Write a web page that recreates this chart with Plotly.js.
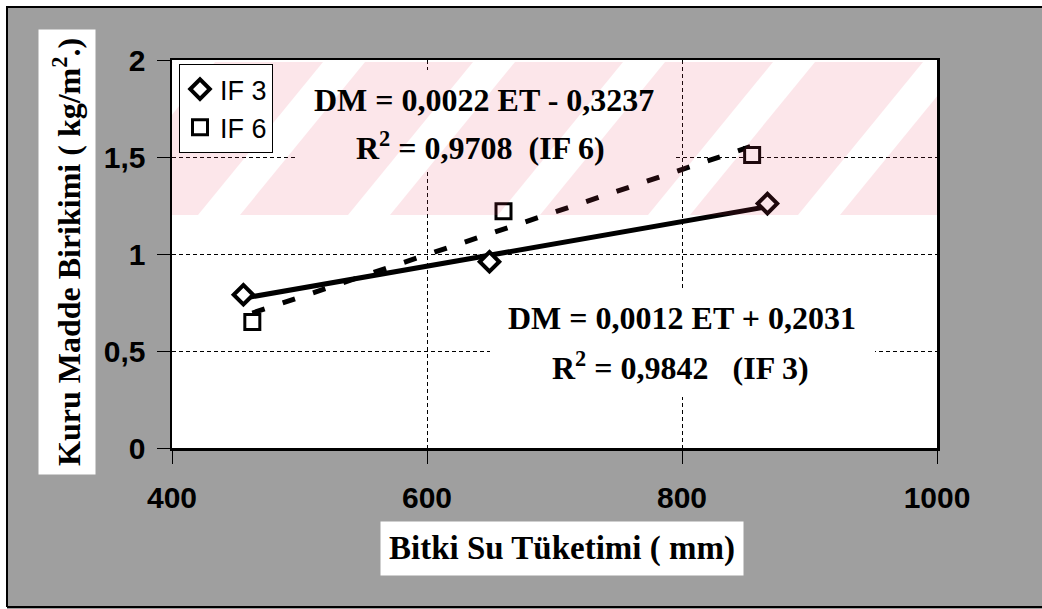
<!DOCTYPE html>
<html>
<head>
<meta charset="utf-8">
<script src="https://cdn.plot.ly/plotly-3.0.1.min.js"></script>
<style>html,body{margin:0;padding:0;background:#fff;}#chart{width:1042px;height:609px;}</style>
</head>
<body>
<div id="chart"></div>
<script>
// ---- data ----
const ET_IF3 = [456, 649, 867];
const DM_IF3 = [0.79, 0.96, 1.26];
const ET_IF6 = [463, 660, 855];
const DM_IF6 = [0.65, 1.22, 1.51];
const seriesNames = ['IF 3', 'IF 6'];
const eqIF6 = ['DM = 0,0022 ET - 0,3237', 'R<sup>2</sup> = 0,9708\u00a0\u00a0(IF 6)'];
const eqIF3 = ['DM = 0,0012 ET + 0,2031', 'R<sup>2</sup> = 0,9842\u00a0\u00a0\u00a0(IF 3)'];
const xTitle = 'Bitki Su Tüketimi ( mm)';
const yTitle = 'Kuru Madde Birikimi ( kg/m<sup>2</sup>.)';
const xTicks = [400, 600, 800, 1000];
const yTicks = [0, 0.5, 1, 1.5, 2];

// ---- layout geometry (pixels) ----
const W = 1042, H = 609;
const PL = 172, PR = 937, PT = 60, PB = 448;
const XR = [400, 1000], YR = [0, 2];
const pxX = p => (p - PL) / (PR - PL);           // paper
const pxY = p => (PB - p) / (PB - PT);
const dX = p => XR[0] + (p - PL) / (PR - PL) * (XR[1] - XR[0]);  // data
const dY = p => YR[0] + (PB - p) / (PB - PT) * (YR[1] - YR[0]);

function fit(x, y) {
  const n = x.length;
  const mx = x.reduce((a, b) => a + b) / n, my = y.reduce((a, b) => a + b) / n;
  let sxy = 0, sxx = 0;
  for (let i = 0; i < n; i++) { sxy += (x[i] - mx) * (y[i] - my); sxx += (x[i] - mx) ** 2; }
  const m = sxy / sxx; return [m, my - m * mx];
}
const f3 = fit(ET_IF3, DM_IF3), f6 = fit(ET_IF6, DM_IF6);
const xMaxAll = Math.max(...ET_IF3, ...ET_IF6);
const t3x = [Math.min(...ET_IF3), Math.max(...ET_IF3)];
const t6x = [Math.min(...ET_IF6), xMaxAll];

const traces = [
  { x: t3x, y: t3x.map(v => f3[0] * v + f3[1]), mode: 'lines', showlegend: false, hoverinfo: 'skip',
    line: { color: '#000', width: 5 } },
  { x: t6x, y: t6x.map(v => f6[0] * v + f6[1]), mode: 'lines', showlegend: false, hoverinfo: 'skip',
    line: { color: '#000', width: 5, dash: '13px,19px' } },
  { x: ET_IF3, y: DM_IF3, mode: 'markers', name: seriesNames[0],
    marker: { symbol: 'diamond', size: 15, color: '#fff', line: { color: '#000', width: 4 } } },
  { x: ET_IF6, y: DM_IF6, mode: 'markers', name: seriesNames[1],
    marker: { symbol: 'square', size: 15, color: '#fff', line: { color: '#000', width: 3 } } }
];

const shapes = [];
// white boxes behind the equations (hide grid, not data)
function box(x0, y0, x1, y1) {
  shapes.push({ type: 'rect', xref: 'x', yref: 'y', layer: 'between',
    x0: dX(x0), x1: dX(x1), y0: dY(y1), y1: dY(y0), fillcolor: '#fff', line: { width: 0 } });
}
box(295, 70, 676, 170);
box(490, 290, 875, 397);
// faint pink watermark bands
for (let x0 = -60; x0 < 960; x0 += 150) {
  const p = [[x0, 215], [x0 + 108, 215], [x0 + 233, 62], [x0 + 125, 62]];
  shapes.push({ type: 'path', xref: 'x', yref: 'y', layer: 'above',
    path: 'M' + p.map(q => dX(q[0]) + ',' + dY(q[1])).join(' L') + ' Z',
    fillcolor: 'rgba(235,60,90,0.13)', line: { width: 0 } });
}
// outer frame: white margin strips + black border
shapes.push({ type: 'rect', xref: 'paper', yref: 'paper', layer: 'below',
  x0: pxX(0), x1: pxX(7), y0: pxY(H), y1: pxY(0), fillcolor: '#fff', line: { width: 0 } });
shapes.push({ type: 'rect', xref: 'paper', yref: 'paper', layer: 'below',
  x0: pxX(0), x1: pxX(W), y0: pxY(6), y1: pxY(0), fillcolor: '#fff', line: { width: 0 } });
shapes.push({ type: 'line', xref: 'paper', yref: 'paper', x0: pxX(7), x1: pxX(7), y0: pxY(607), y1: pxY(6), line: { color: '#000', width: 2 } });
shapes.push({ type: 'line', xref: 'paper', yref: 'paper', x0: pxX(7), x1: pxX(W), y0: pxY(7), y1: pxY(7), line: { color: '#000', width: 2 } });
shapes.push({ type: 'line', xref: 'paper', yref: 'paper', x0: pxX(7), x1: pxX(W), y0: pxY(607), y1: pxY(607), line: { color: '#000', width: 2 } });

const serif = 'Liberation Serif, Times New Roman, serif';
const sans = 'Liberation Sans, Arial, sans-serif';
const ann = (t, px, py, size, extra) => Object.assign({ text: t, xref: 'paper', yref: 'paper',
  x: pxX(px), y: pxY(py), xanchor: 'center', yanchor: 'middle', showarrow: false,
  font: { family: serif, size: size, color: '#000', weight: 'bold' } }, extra || {});

const annotations = [
  ann(eqIF6[0], 484, 100, 32),
  ann(eqIF6[1], 480, 146, 32),
  ann(eqIF3[0], 682, 318, 32),
  ann(eqIF3[1], 680, 366, 32),
  ann(yTitle, 67, 252, 32, { textangle: -90, bgcolor: '#fff', borderpad: 8 }),
  ann(xTitle, 562, 548, 33, { bgcolor: '#fff', borderpad: 8 })
];

const axisCommon = {
  showline: true, mirror: true, linecolor: '#000', linewidth: 2.5,
  showgrid: true, gridcolor: '#000', gridwidth: 1, griddash: '4px,3px',
  zeroline: false, ticks: 'outside', ticklen: 13, tickcolor: '#000', tickwidth: 1,
  tickfont: { family: sans, size: 30, color: '#000', weight: 'bold' }
};

const layout = {
  width: W, height: H,
  margin: { l: PL, r: W - PR, t: PT, b: H - PB },
  paper_bgcolor: '#9f9f9f', plot_bgcolor: '#fff',
  separators: ', ',
  xaxis: Object.assign({}, axisCommon, { range: XR, tickvals: xTicks, ticklabelstandoff: 8 }),
  yaxis: Object.assign({}, axisCommon, { range: YR, tickvals: yTicks, ticklabelstandoff: 5 }),
  showlegend: true,
  legend: { x: pxX(179), y: pxY(64), xanchor: 'left', yanchor: 'top',
    bgcolor: '#fff', bordercolor: '#000', borderwidth: 1,
    font: { family: sans, size: 27, color: '#000' } },
  shapes: shapes, annotations: annotations
};

Plotly.newPlot('chart', traces, layout, { staticPlot: true });
</script>
</body>
</html>
